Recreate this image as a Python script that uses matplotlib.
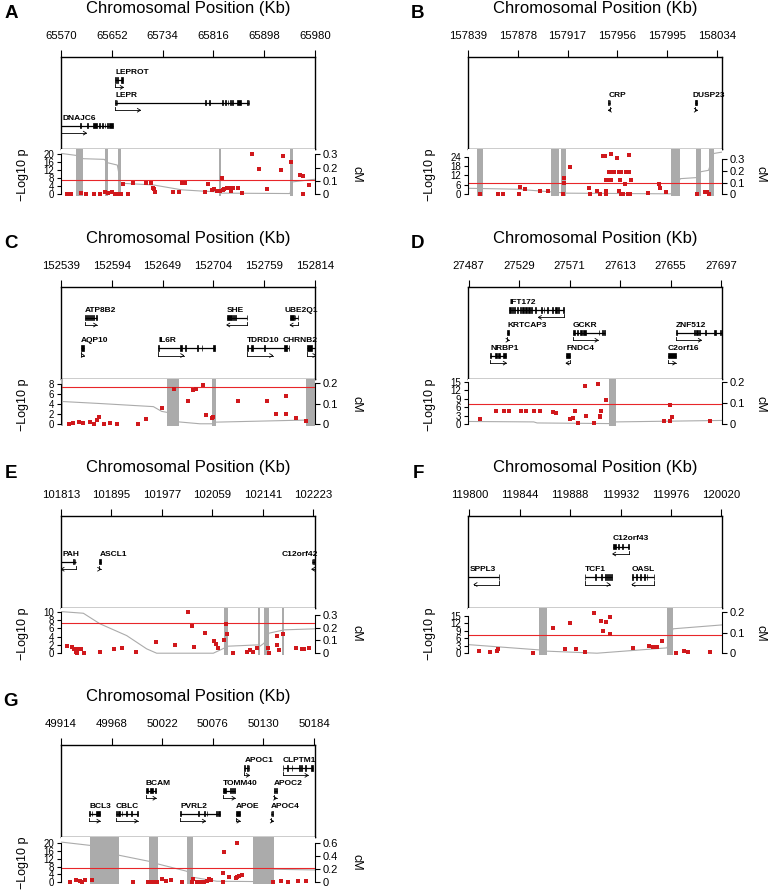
import matplotlib
matplotlib.use("Agg")
import matplotlib.pyplot as plt
from matplotlib.patches import Rectangle

plt.rcParams["font.family"] = ["Liberation Sans", "DejaVu Sans"]

W, H = 769, 890
SIG_LOGP = 7.3   # genome wide significance line (-log10 5e-8)

# ---------------- A : LEPR ----------------
A_ticks = [65570, 65652, 65734, 65816, 65898, 65980]
# name, start, end, strand, track, exons  (Kb)
A_genes = [
    ("LEPROT", 65657.2, 65670.6, 1, 0, [(65657.2, 65658.3), (65660.9, 65662.5), (65666.3, 65670.6)]),
    ("LEPR", 65657.2, 65874.0, 1, 1, [(65657.2, 65658.3), (65659.8, 65660.9), (65801.9, 65803.5), (65808.3, 65810.0),
                                      (65830.4, 65831.5), (65834.7, 65835.8), (65839.0, 65840.0), (65842.8, 65843.8),
                                      (65846.5, 65847.6), (65853.5, 65860.0), (65869.7, 65871.3), (65872.9, 65874.0)]),
    ("DNAJC6", 65570.0, 65654.5, 1, 2, [(65601.2, 65602.8), (65612.5, 65614.1), (65622.2, 65628.6), (65631.9, 65633.0),
                                        (65636.2, 65637.3), (65640.5, 65641.6), (65644.8, 65645.9), (65648.0, 65654.5)]),
]
A_snp_kb = [65579.1, 65586.1, 65602.3, 65610.4, 65623.8, 65632.9, 65641.0, 65646.4, 65651.8, 65657.2,
            65662.5, 65666.3, 65669.5, 65678.7, 65685.7, 65706.7, 65715.3, 65718.0, 65720.1, 65721.7,
            65750.2, 65761.0, 65764.8, 65770.1, 65802.4, 65807.8, 65814.3, 65817.5, 65821.2, 65826.6,
            65829.3, 65830.9, 65833.1, 65837.4, 65841.7, 65844.4, 65847.1, 65856.2, 65861.6, 65877.7,
            65889.6, 65901.9, 65924.5, 65927.8, 65940.7, 65955.7, 65961.1, 65961.1, 65970.8]
A_snp_logp = [0, 0, 0.5, 0, 0, 0, 1.2, 0.8, 1.2, 0,
              0, 0, 5.0, 0, 5.8, 5.8, 5.8, 3.0, 2.5, 1.2,
              1.2, 1.2, 5.8, 5.5, 1.2, 5.2, 2.0, 2.5, 1.7, 1.7,
              8.3, 2.2, 2.8, 3.2, 3.0, 1.7, 3.3, 3.3, 0.5, 20.0,
              12.8, 2.5, 12.0, 19.2, 16.2, 9.5, 9.2, 0, 4.7]
A_hot = [(65594.2, 65606.0), (65640.5, 65645.4), (65661.5, 65666.9), (65824.6, 65828.4), (65940.2, 65944.5)]
A_cm_kb = [65570, 65594.2, 65606.0, 65639.9, 65644.8, 65660.9, 65666.3, 65719.0, 65764.8, 65799.7,
           65823.9, 65827.7, 65939.6, 65943.9, 65980.0]
A_cm = [0.308, 0.293, 0.268, 0.263, 0.238, 0.22, 0.083, 0.07, 0.033, 0.023,
        0.018, 0.008, 0.005, 0.093, 0.113]

# ---------------- B : CRP ----------------
B_ticks = [157839, 157878, 157917, 157956, 157995, 158034]
B_genes = [
    ("CRP", 157948.9, 157950.4, -1, 0, [(157948.9, 157949.6), (157949.9, 157950.4)]),
    ("DUSP23", 158017.0, 158018.6, 1, 0, [(158017.0, 158017.5), (158017.8, 158018.6)]),
]
B_snp_kb = [157848.7, 157862.2, 157866.1, 157878.7, 157880.0, 157883.4, 157895.1, 157901.4, 157913.1, 157913.9,
            157914.4, 157919.1, 157933.5, 157934.8, 157940.0, 157942.1, 157944.7, 157946.5, 157947.1, 157947.3,
            157947.3, 157948.4, 157949.7, 157951.2, 157951.2, 157952.0, 157953.1, 157955.7, 157957.2, 157957.2,
            157958.3, 157958.8, 157958.8, 157960.4, 157962.2, 157962.7, 157964.8, 157964.8, 157964.0, 157965.6,
            157966.6, 157979.9, 157988.3, 157989.6, 157994.3, 158018.3, 158024.8, 158026.1, 158027.4]
B_snp_logp = [0, 0, 0, 0, 4.9, 3.2, 1.9, 1.9, 0, 7.4,
              10.2, 17.4, 3.8, 0, 1.9, 0, 24.4, 24.8, 9.3, 1.9,
              0, 8.9, 14.2, 25.9, 9.3, 14.4, 14.4, 22.9, 14.2, 1.9,
              9.3, 0, 14.4, 0, 6.4, 14.2, 14.2, 25.0, 0, 0,
              9.3, 0.6, 6.4, 3.8, 1.5, 0, 1.5, 1.1, 0]
B_hot = [(157846.0, 157850.7), (157904.3, 157910.0), (157911.8, 157916.0), (157998.0, 158005.3),
         (158017.8, 158021.4), (158027.4, 158031.4)]
B_cm_kb = [157839, 157877.4, 157904.3, 157916.0, 157998.0, 158005.3, 158017.8, 158021.4, 158027.4, 158031.4, 158037.9]
B_cm = [0.051, 0.043, 0.02, 0.009, 0.003, 0.134, 0.143, 0.194, 0.206, 0.351, 0.363]

# ---------------- C : IL6R ----------------
C_ticks = [152539, 152594, 152649, 152704, 152759, 152814]
C_genes = [
    ("ATP8B2", 152565.0, 152577.6, 1, 0, [(152565.0, 152566.1), (152566.8, 152567.9), (152569.0, 152570.0),
                                          (152571.1, 152572.2), (152574.0, 152575.1), (152576.5, 152577.6)]),
    ("SHE", 152718.4, 152740.7, -1, 0, [(152718.4, 152724.5), (152725.6, 152726.3), (152727.4, 152728.2), (152740.0, 152740.7)]),
    ("UBE2Q1", 152787.0, 152796.0, -1, 0, [(152787.0, 152791.3), (152792.0, 152792.7), (152795.3, 152796.0)]),
    ("AQP10", 152560.3, 152564.3, 1, 1, [(152560.3, 152564.3)]),
    ("IL6R", 152644.4, 152705.7, 1, 1, [(152644.4, 152645.1), (152667.8, 152670.0), (152673.3, 152674.3),
                                        (152686.6, 152687.3), (152691.3, 152692.0), (152703.2, 152705.7)]),
    ("TDRD10", 152740.7, 152786.2, 1, 1, [(152740.7, 152741.5), (152744.4, 152747.2), (152758.8, 152759.5),
                                          (152780.8, 152783.3), (152785.5, 152786.2)]),
    ("CHRNB2", 152805.7, 152815.0, 1, 1, [(152805.7, 152810.4)]),
]
C_snp_kb = [152548.0, 152551.6, 152558.8, 152562.5, 152570.4, 152574.7, 152577.6, 152580.5, 152585.6, 152592.1,
            152600.0, 152622.7, 152630.7, 152648.0, 152661.7, 152676.9, 152681.6, 152685.2, 152693.1, 152696.0,
            152702.1, 152703.9, 152730.3, 152761.7, 152771.8, 152782.2, 152782.6, 152793.4, 152804.3]
C_snp_logp = [0, 0.3, 0.5, 0.2, 0.4, 0, 0.9, 1.5, 0, 0.3,
              0, 0.1, 1.1, 3.1, 6.9, 4.6, 6.7, 6.9, 7.7, 1.9,
              1.3, 1.5, 4.5, 4.5, 2.1, 5.6, 2.1, 1.3, 0.7]
C_hot = [(152539.0, 152541.5), (152654.1, 152666.8), (152702.1, 152706.8), (152804.3, 152814.0)]
C_cm_kb = [152539.0, 152581.2, 152639.0, 152648.0, 152654.1, 152666.8, 152689.5, 152702.1, 152706.8, 152804.3, 152814.0]
C_cm = [0.110, 0.100, 0.085, 0.062, 0.057, 0.011, 0.002, 0.002, 0.010, 0.020, 0.021]

# ---------------- D : GCKR ----------------
D_ticks = [27487, 27529, 27571, 27613, 27655, 27697]
D_genes = [
    ("IFT172", 27520.8, 27566.1, -1, 0, [(27520.8, 27522.0), (27523.1, 27524.2), (27525.0, 27525.8), (27527.2, 27527.8),
                                         (27529.4, 27530.6), (27531.4, 27532.8), (27534.2, 27535.5), (27536.4, 27537.8),
                                         (27538.9, 27539.7), (27542.5, 27543.3), (27547.2, 27547.8), (27549.4, 27550.0),
                                         (27552.2, 27553.3), (27556.4, 27557.5), (27559.1, 27560.5), (27561.1, 27561.9),
                                         (27565.6, 27566.1)]),
    ("KRTCAP3", 27518.9, 27520.6, 1, 1, [(27518.9, 27520.6)]),
    ("GCKR", 27573.5, 27600.2, 1, 1, [(27573.5, 27575.7), (27577.2, 27577.7), (27579.9, 27581.0), (27582.1, 27584.4),
                                      (27595.2, 27595.7), (27598.0, 27598.5), (27599.6, 27600.2)]),
    ("ZNF512", 27659.5, 27699.0, 1, 1, [(27659.5, 27660.1), (27674.2, 27675.6), (27676.5, 27677.8), (27678.7, 27679.8),
                                        (27684.0, 27684.5), (27691.4, 27692.8), (27695.9, 27697.0)]),
    ("NRBP1", 27505.0, 27518.3, 1, 2, [(27505.0, 27505.6), (27509.2, 27510.6), (27511.4, 27512.8), (27515.6, 27518.3)]),
    ("FNDC4", 27568.0, 27571.6, -1, 2, [(27568.0, 27571.6)]),
    ("C2orf16", 27652.6, 27659.3, 1, 2, [(27652.6, 27659.3)]),
]
D_snp_kb = [27496.2, 27510.0, 27516.7, 27520.8, 27530.6, 27534.7, 27541.6, 27546.6, 27556.9, 27560.0,
            27571.6, 27573.8, 27575.8, 27577.7, 27584.1, 27584.6, 27591.0, 27594.4, 27596.0, 27596.6,
            27597.1, 27601.6, 27649.8, 27654.3, 27654.8, 27656.2, 27687.6]
D_snp_logp = [1.8, 4.8, 4.8, 4.8, 4.8, 4.8, 4.7, 4.8, 4.3, 4.0,
              1.8, 2.2, 4.8, 0.6, 13.6, 3.0, 0.4, 14.2, 2.4, 2.8,
              4.8, 8.5, 1.1, 1.1, 6.8, 2.4, 1.1]
D_hot = [(27603.5, 27609.6)]
D_cm_kb = [27486.4, 27541.1, 27543.9, 27603.5, 27609.6, 27697.8]
D_cm = [0.013, 0.011, 0.006, 0.003, 0.011, 0.018]

# ---------------- E : PAH / ASCL1 ----------------
E_ticks = [101813, 101895, 101977, 102059, 102141, 102223]
E_genes = [
    ("PAH", 101813.0, 101837.4, -1, 0, [(101832.5, 101833.6), (101835.2, 101836.3)]),
    ("ASCL1", 101875.3, 101877.5, 1, 0, [(101875.3, 101877.5)]),
    ("C12orf42", 102220.3, 102240.0, -1, 0, [(102220.3, 102221.3), (102223.0, 102224.0)]),
]
E_snp_kb = [101822.2, 101830.3, 101834.1, 101837.4, 101838.5, 101841.2, 101845.0, 101850.4, 101876.4, 101899.1,
            101912.7, 101934.9, 101966.8, 101998.2, 102018.8, 102025.3, 102029.1, 102047.0, 102061.6, 102064.8,
            102067.6, 102078.4, 102080.5, 102082.2, 102091.9, 102114.7, 102120.1, 102125.5, 102132.0, 102148.8,
            102151.5, 102163.4, 102164.5, 102167.2, 102173.2, 102194.3, 102204.0, 102207.8, 102216.5]
E_snp_logp = [1.7, 1.5, 1.1, 0.2, 0, 1.1, 1.1, 0, 0.4, 0.9,
              1.2, 0.4, 2.7, 2.1, 10.0, 6.7, 1.5, 5.0, 2.9, 2.3,
              1.2, 3.3, 7.2, 4.6, 0.1, 0.4, 0.7, 0.4, 1.2, 1.2,
              0, 4.1, 2.1, 0.8, 4.6, 1.2, 0.9, 0.9, 1.2]
E_hot = [(102078.4, 102084.9), (102132.5, 102136.3), (102142.8, 102151.0), (102172.6, 102175.9)]
E_cm_kb = [101813, 101849.3, 101876.4, 101919.7, 101952.2, 101968.4, 102060.5, 102084.9, 102132.5, 102136.3,
           102142.8, 102151.0, 102175.9, 102225.7]
E_cm = [0.326, 0.313, 0.230, 0.138, 0.034, 0, 0, 0.055, 0.065, 0.055,
        0.078, 0.157, 0.183, 0.191]

# ---------------- F : TCF1 / HNF1A ----------------
F_ticks = [119800, 119844, 119888, 119932, 119976, 120020]
F_genes = [
    ("C12orf43", 119925.1, 119939.1, -1, 0, [(119925.1, 119928.0), (119929.8, 119930.4), (119933.3, 119933.9), (119938.5, 119939.1)]),
    ("SPPL3", 119790.0, 119826.2, -1, 1, [(119790.0, 119791.0), (119825.6, 119826.2)]),
    ("TCF1", 119900.7, 119924.5, 1, 1, [(119900.7, 119901.3), (119909.4, 119910.3), (119915.2, 119916.1), (119918.1, 119919.0),
                                        (119920.5, 119921.4), (119922.2, 119923.1), (119923.7, 119924.5)]),
    ("OASL", 119942.0, 119961.5, -1, 1, [(119942.0, 119942.6), (119945.5, 119946.1), (119949.0, 119949.6),
                                         (119952.5, 119953.1), (119954.8, 119955.4), (119960.9, 119961.5)]),
]
F_snp_kb = [119808.1, 119817.8, 119824.2, 119824.7, 119855.3, 119873.0, 119883.8, 119887.6, 119893.4, 119901.0,
            119909.1, 119915.2, 119916.4, 119919.6, 119922.5, 119923.1, 119942.9, 119956.6, 119960.3, 119963.8,
            119968.5, 119980.1, 119987.7, 119990.6, 120010.4]
F_snp_logp = [0.8, 0.4, 0.8, 1.6, 0.1, 10.1, 1.5, 12.1, 1.7, 0.4,
              16.1, 13.0, 9.0, 12.4, 7.6, 14.3, 2.1, 2.8, 2.4, 2.4,
              5.0, 0.1, 0.8, 0.4, 0.4]
F_hot = [(119861.1, 119867.5), (119972.6, 119977.8)]
F_cm_kb = [119798.8, 119861.1, 119867.5, 119911.5, 119972.6, 119977.8, 120020.6]
F_cm = [0.042, 0.016, 0.010, 0, 0.026, 0.119, 0.138]

# ---------------- G : APOE cluster ----------------
G_ticks = [49914, 49968, 50022, 50076, 50130, 50184]
G_genes = [
    ("APOC1", 50109.6, 50115.0, 1, 0, [(50109.6, 50110.7), (50112.8, 50113.5), (50114.3, 50115.0)]),
    ("CLPTM1", 50150.5, 50183.3, 1, 0, [(50150.5, 50151.3), (50155.5, 50156.2), (50160.1, 50160.9), (50168.0, 50168.7),
                                        (50170.1, 50171.2), (50174.4, 50175.1), (50180.4, 50183.3)]),
    ("BCAM", 50004.3, 50015.4, 1, 1, [(50004.3, 50007.2), (50009.0, 50011.8), (50014.3, 50015.4)]),
    ("TOMM40", 50086.5, 50099.7, 1, 1, [(50086.5, 50090.1), (50094.4, 50095.1), (50096.5, 50097.2), (50099.0, 50099.7)]),
    ("APOC2", 50141.3, 50144.1, 1, 1, [(50141.3, 50142.0), (50143.0, 50144.1)]),
    ("BCL3", 49944.2, 49955.6, 1, 2, [(49944.2, 49944.9), (49946.7, 49947.4), (49951.3, 49955.6)]),
    ("CBLC", 49972.7, 49995.8, 1, 2, [(49972.7, 49974.1), (49975.2, 49977.0), (49978.7, 49979.4), (49983.4, 49984.4),
                                      (49988.7, 49989.8), (49995.1, 49995.8)]),
    ("PVRL2", 50041.0, 50083.7, 1, 2, [(50041.0, 50041.7), (50060.5, 50061.3), (50067.0, 50067.7), (50069.4, 50070.2),
                                       (50079.4, 50080.1), (50081.2, 50083.7)]),
    ("APOE", 50100.7, 50105.0, 1, 2, [(50100.7, 50105.0)]),
    ("APOC4", 50137.7, 50140.6, 1, 2, [(50137.7, 50138.4), (50139.5, 50140.6)]),
]
G_snp_kb = [49923.6, 49930.0, 49934.3, 49936.8, 49939.6, 49946.7, 49990.5, 50007.2, 50010.8, 50014.3,
            50016.1, 50021.4, 50025.7, 50031.0, 50043.5, 50053.4, 50054.5, 50058.8, 50061.6, 50064.1,
            50066.6, 50069.4, 50071.9, 50074.1, 50086.5, 50087.2, 50087.9, 50093.6, 50100.4, 50102.2,
            50102.2, 50104.3, 50106.8, 50139.9, 50148.8, 50156.6, 50166.5, 50175.4]
G_snp_logp = [0.2, 1.2, 0.8, 0.3, 1.2, 1.2, 0.2, 0.3, 0.2, 0.3,
              0.2, 1.7, 0.8, 1.0, 0.2, 0.2, 1.5, 0.2, 0.2, 0.3,
              0.3, 0.8, 1.4, 1.2, 0.3, 4.6, 15.3, 2.9, 2.2, 20.0,
              2.9, 3.2, 3.6, 0, 0.8, 0.2, 0.8, 0.8]
G_hot = [(49944.9, 49976.2), (50007.9, 50017.2), (50048.1, 50054.5), (50119.2, 50141.3)]
G_cm_kb = [49914, 49944.9, 49976.2, 50007.9, 50017.2, 50048.1, 50054.5, 50080.1, 50119.2, 50141.3, 50185.0]
G_cm = [0.615, 0.564, 0.412, 0.320, 0.280, 0.168, 0.076, 0.015, 0.010, 0.198, 0.188]


panels = [
    dict(tag="A", col=0, row=0, ticks=A_ticks, xlim=(65570, 65980), genes=A_genes, ntrack=3,
         snp_kb=A_snp_kb, snp_p=A_snp_logp, hot=A_hot, cm_kb=A_cm_kb, cm=A_cm,
         p_ticks=[0, 4, 8, 12, 16, 20], p_top=23.0, cm_ticks=[0, 0.1, 0.2, 0.3], cm_top=0.345),
    dict(tag="B", col=1, row=0, ticks=B_ticks, xlim=(157839, 158037.9), genes=B_genes, ntrack=1,
         snp_kb=B_snp_kb, snp_p=B_snp_logp, hot=B_hot, cm_kb=B_cm_kb, cm=B_cm,
         p_ticks=[0, 6, 12, 18, 24], p_top=29.3, cm_ticks=[0, 0.1, 0.2, 0.3], cm_top=0.394),
    dict(tag="C", col=0, row=1, ticks=C_ticks, xlim=(152539, 152814), genes=C_genes, ntrack=2,
         snp_kb=C_snp_kb, snp_p=C_snp_logp, hot=C_hot, cm_kb=C_cm_kb, cm=C_cm,
         p_ticks=[0, 2, 4, 6, 8], p_top=9.0, cm_ticks=[0, 0.1, 0.2], cm_top=0.221),
    dict(tag="D", col=1, row=1, ticks=D_ticks, xlim=(27486.4, 27697.8), genes=D_genes, ntrack=3,
         snp_kb=D_snp_kb, snp_p=D_snp_logp, hot=D_hot, cm_kb=D_cm_kb, cm=D_cm,
         p_ticks=[0, 3, 6, 9, 12, 15], p_top=16.2, cm_ticks=[0, 0.1, 0.2], cm_top=0.219),
    dict(tag="E", col=0, row=2, ticks=E_ticks, xlim=(101813, 102225.7), genes=E_genes, ntrack=1,
         snp_kb=E_snp_kb, snp_p=E_snp_logp, hot=E_hot, cm_kb=E_cm_kb, cm=E_cm,
         p_ticks=[0, 2, 4, 6, 8, 10], p_top=11.1, cm_ticks=[0, 0.1, 0.2, 0.3], cm_top=0.358),
    dict(tag="F", col=1, row=2, ticks=F_ticks, xlim=(119798.8, 120020.6), genes=F_genes, ntrack=2,
         snp_kb=F_snp_kb, snp_p=F_snp_logp, hot=F_hot, cm_kb=F_cm_kb, cm=F_cm,
         p_ticks=[0, 3, 6, 9, 12, 15], p_top=18.2, cm_ticks=[0, 0.1, 0.2], cm_top=0.223),
    dict(tag="G", col=0, row=3, ticks=G_ticks, xlim=(49914, 50185.0), genes=G_genes, ntrack=3,
         snp_kb=G_snp_kb, snp_p=G_snp_logp, hot=G_hot, cm_kb=G_cm_kb, cm=G_cm,
         p_ticks=[0, 4, 8, 12, 16, 20], p_top=23.4, cm_ticks=[0, 0.2, 0.4, 0.6], cm_top=0.70),
]

# layout in pixels
COL_X = [61, 468]
CM_OFF = [42, 39]
ROW_TOP = [57, 287, 516, 745]
BOX_W = 254
GENE_H = 91.5
ASSOC_H = 45.7
BELOW = 2.0
EXON_H = 5.3 / GENE_H

GREY = "#ABABAB"
RED_PT = "#D0181C"
RED_LN = "#E8262A"

fig = plt.figure(figsize=(W / 100, H / 100), dpi=100)


def px_axes(x0, y0, w, h):
    return fig.add_axes([x0 / W, 1 - (y0 + h) / H, w / W, h / H])


labels = []
for p in panels:
    x0 = COL_X[p["col"]]
    top = ROW_TOP[p["row"]]
    xlo, xhi = p["xlim"]
    kb_px = (xhi - xlo) / BOX_W

    # gene track
    axg = px_axes(x0, top, BOX_W, GENE_H)
    axg.set_xlim(xlo, xhi)
    axg.set_ylim(0, 1)
    axg.set_xticks(p["ticks"])
    axg.set_xticklabels([str(t) for t in p["ticks"]])
    axg.xaxis.tick_top()
    axg.tick_params(axis="x", direction="out", length=5, width=0.8, pad=6.5, labelsize=8.2)
    axg.set_yticks([])
    for sp in axg.spines.values():
        sp.set_linewidth(1.0)

    for name, s, e, strand, trk, exons in p["genes"]:
        y = 1 - (trk + 1) / (p["ntrack"] + 1)
        axg.plot([s, e], [y, y], color="k", lw=0.9, solid_capstyle="butt")
        for es, ee in exons:
            axg.add_patch(Rectangle((es, y - EXON_H / 2), ee - es, EXON_H, fc="k", ec="k", lw=0.5))
        # direction arrow
        tss = s if strand > 0 else e
        L = min(e - s, 0.1 * (xhi - xlo)) * strand
        ya = y - 7.5 / GENE_H
        axg.plot([tss, tss], [y - 4 / GENE_H, ya], color="k", lw=0.6)
        axg.plot([tss, tss + L], [ya, ya], color="k", lw=0.6)
        hl = 3 * kb_px * strand
        hw = 1.8 / GENE_H
        axg.plot([tss + L - hl, tss + L, tss + L - hl], [ya + hw, ya, ya - hw], color="k", lw=0.6)
        lx = max(s, xlo + 2 * kb_px)
        t = axg.text(lx, y + 4 / GENE_H, name, fontsize=6, fontweight="bold", ha="left", va="bottom")
        labels.append((t, axg, kb_px))

    # association track: cM (right) below, -log10 p (left) on top
    axc = px_axes(x0, top + GENE_H, BOX_W, ASSOC_H + BELOW)
    axp = axc.twinx()
    frac = BELOW / ASSOC_H
    axc.set_xlim(xlo, xhi)
    axc.set_ylim(-frac * p["cm_top"], p["cm_top"])
    axp.set_ylim(-frac * p["p_top"], p["p_top"])
    axc.tick_params(axis="x", bottom=False, labelbottom=False)
    axc.yaxis.tick_right()
    axp.yaxis.tick_left()

    for s, e in p["hot"]:
        axc.axvspan(s, e, color=GREY, lw=0)
    axc.plot(p["cm_kb"], p["cm"], color=GREY, lw=0.8)

    axp.axhline(SIG_LOGP, color=RED_LN, lw=0.8)
    axp.plot(p["snp_kb"], p["snp_p"], ls="none", marker="s", ms=3.2, mfc=RED_PT, mec=RED_PT, mew=0, clip_on=False)

    for ax in (axc, axp):
        for sp in ax.spines.values():
            sp.set_visible(False)
    axp.spines["left"].set_visible(True)
    axp.spines["left"].set_bounds(0, p["p_ticks"][-1])
    axp.spines["left"].set_linewidth(0.8)
    axc.spines["right"].set_visible(True)
    axc.spines["right"].set_bounds(0, p["cm_ticks"][-1])
    axc.spines["right"].set_linewidth(0.8)

    axp.set_yticks(p["p_ticks"])
    axp.set_yticklabels([str(v) for v in p["p_ticks"]])
    axp.tick_params(axis="y", length=3, width=0.8, pad=2, labelsize=7)
    axc.set_yticks(p["cm_ticks"])
    axc.set_yticklabels(["%g" % v for v in p["cm_ticks"]])
    axc.tick_params(axis="y", length=3.5, width=0.8, pad=2, labelsize=8)

    # panel texts
    fig.text((x0 + BOX_W / 2) / W, 1 - (top - 49) / H, "Chromosomal Position (Kb)",
             ha="center", va="center", fontsize=12)
    fig.text((x0 - 50) / W, 1 - (top - 43) / H, p["tag"], ha="center", va="center",
             fontsize=13.5, fontweight="bold")
    ymid = top + GENE_H + ASSOC_H / 2 + 3
    fig.text((x0 - 38) / W, 1 - ymid / H, "\u2212Log10 p", rotation=90, ha="center", va="center", fontsize=9)
    fig.text((x0 + BOX_W + CM_OFF[p["col"]]) / W, 1 - ymid / H, "cM", rotation=-90,
             ha="center", va="center", fontsize=9)

# keep gene names from running far past the right edge of the box
fig.canvas.draw()
rend = fig.canvas.get_renderer()
for t, ax, kb_px in labels:
    bb = t.get_window_extent(rend)
    right = ax.get_window_extent(rend).x1
    if bb.x1 > right + 3:
        x, y = t.get_position()
        t.set_x(x - (bb.x1 - right - 3) * kb_px)

fig.savefig("out.png", dpi=100)
